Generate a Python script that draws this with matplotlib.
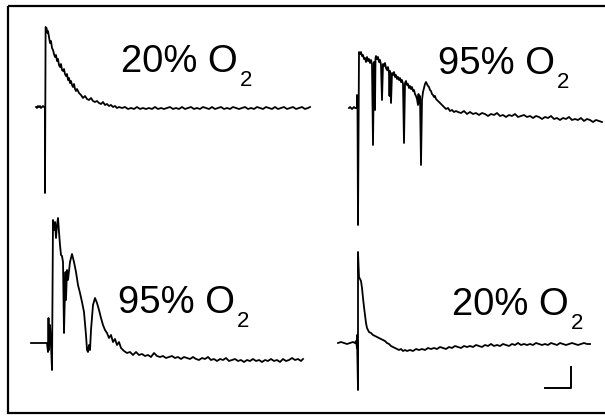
import numpy as np
import matplotlib.pyplot as plt
from matplotlib.patches import Rectangle

plt.rcParams['font.family'] = ['Liberation Sans', 'DejaVu Sans']

# traces: (time from stimulus, amplitude above baseline)
trace_20_a = [(-9, 0), (-8, -1), (-7, 1), (-6, 0), (-5, 1), (-4, -1), (-3, 0), (-2, 1), (-1, 0), (0, 0),
              (0, -86), (0.6, 80), (1.5, 79), (2.5, 74), (3, 76),
              (4, 70), (5, 64), (6, 66), (7, 59), (8, 57), (9, 53), (10, 50), (11, 52), (12, 46), (13, 48),
              (14, 42), (15, 40), (16, 43), (17, 37), (18, 36), (19, 38), (20, 33), (21, 31), (22, 33), (23, 27),
              (24, 29), (25, 24), (26, 26), (27, 22), (28, 20), (29, 23), (30, 18), (31, 16), (32, 18),
              (34, 14), (36, 12), (38, 9), (40, 11), (42, 8), (44, 7), (46, 9), (48, 6), (50, 5), (52, 6),
              (54, 4), (56, 3), (58, 5), (60, 2), (62, 3), (64, 1), (66, 2), (68, 0), (70, 1), (72, -1), (74, 0),
              (77, -1), (80, 0), (83, -2), (86, -1), (89, -2), (92, 0), (95, -2), (98, -1), (101, -2), (104, -1),
              (107, -2), (110, 0), (113, -2), (116, -1), (119, -2), (122, -1), (125, 0), (128, -2), (131, -1),
              (134, -2), (137, 0), (140, -2), (143, -1), (146, 0), (149, -2), (152, -1), (155, -2), (158, 0),
              (161, -1), (164, -2), (167, 0), (170, -2), (173, -1), (176, 0), (179, -2), (182, -1), (185, -2),
              (188, 0), (191, -1), (194, -2), (197, -1), (200, 0), (203, -2), (206, -1), (209, -2), (212, 0),
              (215, -1), (218, -2), (221, 0), (224, -1), (227, -2), (230, 0), (233, -2), (236, -1), (239, 0),
              (242, -2), (245, -1), (248, 0), (251, -2), (254, -1), (257, 0), (260, -2), (263, -1), (265, 0)]

trace_95_a = [(-9, 0), (-8, 1), (-7, 0), (-6, -1), (-5, 0), (-4, 1), (-3, 0), (-2, 0), (-1, 0), (-1, 13),
              (-0.5, 0), (0, -117), (1, 56), (2, 54), (3, 56), (4, 52), (5, 53), (6, 49), (7, 50), (8, 46),
              (9, 51), (10, 47), (11, 49), (12, 45), (13, 48), (14, 44), (15, -37), (16, 46), (17, -2), (17.5, 50),
              (18, 52), (19, 49), (20, 51), (21, 46), (22, 48), (23, 43), (24, 8), (25, 44), (26, 42), (27, 45),
              (28, 40), (29, 38), (30, 41), (31, 35), (31.5, 12), (32, 37), (33, 5), (34, 35), (35, 33), (36, 36),
              (37, 31), (38, 33), (39, 29), (40, 31), (41, 28), (42, 30), (43, 26), (44, 28), (45, 24), (46, -35),
              (47, 25), (48, 27), (49, 23), (50, 24), (51, 20), (52, 22), (53, 19), (54, 21), (55, 17), (56, 18),
              (57, 14), (58, 12), (59, 9), (60, 3), (60.5, 14), (61, 5), (62, 12), (63, -57), (64, 8), (65, 16),
              (66, 20), (67, 24), (68, 26), (69, 24), (70, 22), (71, 21), (72, 18), (73, 17), (74, 14), (75, 13),
              (76, 11), (77, 12), (78, 9), (80, 7), (82, 5), (84, 3), (86, 1), (88, -1), (90, 0), (92, -3),
              (94, -2), (96, -4), (98, -3), (100, -4), (103, -5), (106, -3), (109, -6), (112, -4), (115, -6),
              (118, -5), (121, -7), (124, -5), (127, -6), (130, -8), (133, -6), (136, -7), (139, -5), (142, -8),
              (145, -7), (148, -9), (151, -7), (154, -8), (157, -6), (160, -9), (163, -8), (166, -7), (169, -9),
              (172, -8), (175, -10), (178, -8), (181, -9), (184, -11), (187, -9), (190, -10), (193, -8),
              (196, -11), (199, -10), (202, -12), (205, -10), (208, -11), (211, -9), (214, -12), (217, -11),
              (220, -12), (223, -10), (226, -13), (229, -11), (232, -12), (235, -14), (238, -12), (241, -13),
              (244, -14)]

trace_95_b = [(-21, 0), (-17, 0), (-13, 0), (-9, 0), (-5, 0), (-4, -9), (-3.5, 25), (-3, -7), (-2, 18),
              (-1, -2), (0, -27), (1, 123), (2, 113), (3, 121), (4, 105), (5, 118), (6, 125), (7, 111),
              (8, 98), (9, 88), (10, 87), (11, 81), (12, 10), (13, 53), (13.5, 71), (14, 43), (15, 73),
              (16, 63), (18, 81), (20, 89), (22, 81), (24, 71), (26, 58), (28, 50), (30, 41), (32, 31),
              (34, 8), (35, -7), (36, -9), (37, -2), (38, -7), (39, 13), (41, 38), (43, 45), (45, 40),
              (47, 33), (49, 25), (51, 18), (53, 13), (55, 10), (57, 5), (59, 8), (61, 1), (63, 4), (65, -2),
              (67, 1), (69, -5), (72, -8), (75, -10), (78, -9), (81, -12), (84, -9), (87, -12),
              (90, -11), (93, -13), (96, -12), (99, -14), (102, -10), (105, -13), (108, -14), (111, -13),
              (114, -15), (117, -14), (120, -13), (123, -15), (126, -14), (129, -16), (132, -14), (135, -15),
              (138, -16), (141, -14), (144, -16), (147, -17), (150, -15), (153, -16), (156, -14), (159, -17),
              (162, -16), (165, -18), (168, -16), (171, -17), (174, -15), (177, -18), (180, -17), (183, -16),
              (186, -18), (189, -17), (192, -19), (195, -17), (198, -18), (201, -16), (204, -18), (207, -17),
              (210, -19), (213, -17), (216, -18), (219, -16), (222, -18), (225, -17), (228, -19), (231, -16),
              (234, -18), (237, -17), (240, -15), (243, -17), (246, -16), (249, -18), (251, -16)]

trace_20_b = [(-20, 0), (-17, 1), (-14, 0), (-11, -1), (-8, 0), (-5, 1), (-3, 0), (-2, 2), (-1, -5), (-1, 8),
              (0, -47), (0, 91), (1, 66), (2, 64), (3, 62), (4, 55), (5, 45), (6, 36), (7, 28), (8, 20),
              (9, 15), (10, 13), (11, 11), (13, 10), (15, 8), (17, 7), (19, 6), (21, 5), (23, 4), (25, 3),
              (27, 2), (29, 0), (31, -1), (33, -3), (35, -4), (37, -5), (39, -6), (41, -7), (43, -6), (45, -8),
              (47, -7), (49, -8), (52, -7), (55, -8), (58, -6), (61, -7), (64, -6), (67, -7), (70, -5),
              (73, -6), (76, -5), (79, -6), (82, -4), (85, -5), (88, -6), (91, -4), (94, -5), (97, -3),
              (100, -4), (103, -5), (106, -3), (109, -4), (112, -3), (115, -4), (118, -2), (121, -3),
              (124, -4), (127, -2), (130, -3), (133, -1), (136, -3), (139, -2), (142, -3), (145, -1),
              (148, -2), (151, -3), (154, -1), (157, -2), (160, 0), (163, -2), (166, -1), (169, -2),
              (172, -1), (175, -2), (178, 0), (181, -1), (184, -2), (187, -1), (190, -2), (193, 0),
              (196, -1), (199, -2), (202, 0), (205, -1), (208, -2), (211, -1), (214, 0), (217, -1),
              (220, -2), (223, -1), (226, 0), (229, -1), (232, -1)]

labels = ['20% O', '95% O', '95% O', '20% O']
subscript = '2'
scale_bar = (26, 21)  # horizontal, vertical length

traces = [trace_20_a, trace_95_a, trace_95_b, trace_20_b]

fig = plt.figure(figsize=(6.05, 4.17), dpi=100)
ax = fig.add_axes([0, 0, 1, 1])
ax.set_xlim(0, 605)
ax.set_ylim(417, 0)
ax.axis('off')

# panel origins (stimulus x, baseline y) and label anchors, in figure pixels
origins = [(45, 107), (358, 108), (52, 343), (358, 343)]
label_pos = [(121, 72), (438, 74), (118, 313), (452, 315)]

for tr, (x0, y0) in zip(traces, origins):
    t, v = np.array(tr, dtype=float).T
    ax.plot(x0 + t, y0 - v, color='black', lw=1.3)

for lab, (lx, ly) in zip(labels, label_pos):
    txt = ax.text(lx, ly, lab, fontsize=27.5, ha='left', va='baseline')
    ax.annotate(subscript, xy=(1, 0), xycoords=txt, xytext=(2, -6),
                textcoords='offset pixels', fontsize=16, ha='left', va='baseline')

# scale bar
sx, sy = 571, 388
ax.plot([sx - scale_bar[0], sx, sx], [sy, sy, sy - scale_bar[1]], color='black', lw=1.4)

ax.add_patch(Rectangle((8, 6), 640, 407, fill=False, edgecolor='black', lw=1.6, clip_on=False))

fig.savefig('out.png', dpi=100)
